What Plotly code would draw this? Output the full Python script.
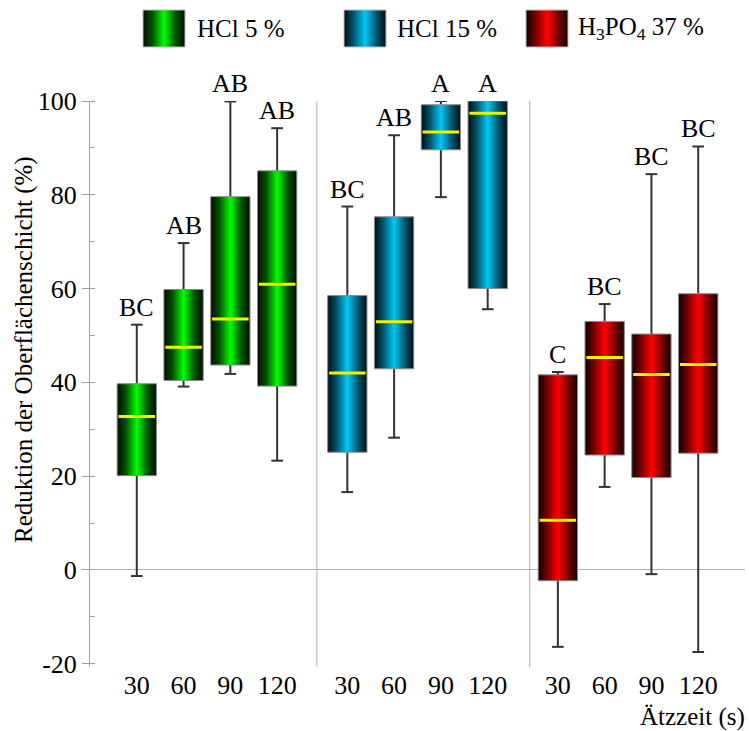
import plotly.graph_objects as go

# ---------------- data ----------------
times = ["30", "60", "90", "120"]
groups = ["HCl 5 %", "HCl 15 %", "H<sub>3</sub>PO<sub>4</sub> 37 %"]

hcl5_lo = [-1.3, 39.1, 41.8, 23.3]
hcl5_q1 = [20.1, 40.4, 43.7, 39.2]
hcl5_med = [32.7, 47.5, 53.5, 60.9]
hcl5_q3 = [39.7, 59.8, 79.6, 85.1]
hcl5_hi = [52.3, 69.7, 99.9, 94.2]
hcl5_letters = ["BC", "AB", "AB", "AB"]

hcl15_lo = [16.6, 28.2, 79.5, 55.6]
hcl15_q1 = [25.1, 42.9, 89.6, 60.0]
hcl15_med = [42.0, 52.9, 93.4, 97.4]
hcl15_q3 = [58.5, 75.3, 99.2, 100.0]
hcl15_hi = [77.5, 92.7, 100.0, 100.0]
hcl15_letters = ["BC", "AB", "A", "A"]

h3po4_lo = [-16.4, 17.7, -0.9, -17.5]
h3po4_q1 = [-2.3, 24.5, 19.7, 24.9]
h3po4_med = [10.6, 45.3, 41.7, 43.8]
h3po4_q3 = [41.6, 53.0, 50.3, 58.9]
h3po4_hi = [42.2, 56.7, 84.4, 90.3]
h3po4_letters = ["C", "BC", "BC", "BC"]

y_ticks = [-20, 0, 20, 40, 60, 80, 100]
y_ticktext = ["-20", "0", "20", "40", "60", "80", "100"]

# ---------------- style ----------------
FONT = "Liberation Serif"
scales = [
    [[0, "#000e00"], [0.22, "#005200"], [0.5, "#00ff00"], [0.78, "#005200"], [1, "#000e00"]],
    [[0, "#000f15"], [0.22, "#00526a"], [0.5, "#00c8f5"], [0.78, "#00526a"], [1, "#000f15"]],
    [[0, "#120000"], [0.22, "#720000"], [0.5, "#ff0000"], [0.78, "#720000"], [1, "#120000"]],
]
group_start = [1.0, 5.5, 10.0]
separators = [4.85, 9.4]
BW = 0.84       # box width (x units)
CAP = 0.125     # whisker cap half width
WH = "#333333"

data = [
    (hcl5_lo, hcl5_q1, hcl5_med, hcl5_q3, hcl5_hi, hcl5_letters),
    (hcl15_lo, hcl15_q1, hcl15_med, hcl15_q3, hcl15_hi, hcl15_letters),
    (h3po4_lo, h3po4_q1, h3po4_med, h3po4_q3, h3po4_hi, h3po4_letters),
]

fig = go.Figure()
annotations = []
tickvals, ticktext = [], []

for g, (lo, q1, med, q3, hi, letters) in enumerate(data):
    for i in range(len(times)):
        c = group_start[g] + i
        tickvals.append(c)
        ticktext.append(times[i])
        # whiskers + caps
        wx = [c, c, None, c, c, None, c - CAP, c + CAP, None, c - CAP, c + CAP]
        wy = [q3[i], hi[i], None, q1[i], lo[i], None, hi[i], hi[i], None, lo[i], lo[i]]
        fig.add_trace(go.Scatter(x=wx, y=wy, mode="lines", line=dict(color=WH, width=2),
                                 showlegend=False, hoverinfo="skip", cliponaxis=False))
        # box
        l, r = c - BW / 2, c + BW / 2
        fig.add_trace(go.Scatter(
            x=[l, r, r, l, l], y=[q1[i], q1[i], q3[i], q3[i], q1[i]],
            mode="lines", fill="toself",
            fillgradient=dict(type="horizontal", colorscale=scales[g]),
            line=dict(color="#8a8a8a", width=1),
            showlegend=False, hoverinfo="skip", cliponaxis=False))
        # median
        fig.add_trace(go.Scatter(x=[l + 0.03, r - 0.03], y=[med[i], med[i]], mode="lines",
                                 line=dict(color="#f2f200", width=3),
                                 showlegend=False, hoverinfo="skip", cliponaxis=False))
        annotations.append(dict(x=c, y=hi[i], xref="x", yref="y", text=letters[i],
                                showarrow=False, yanchor="bottom", yshift=1,
                                font=dict(family=FONT, size=26, color="black")))

# ---------------- legend (own axis, pixel-like units) ----------------
leg_x = [143, 344, 526]
leg_text_x = [195, 395, 576]
SW, SH, LY = 42, 37, 28.5
for g in range(3):
    x0 = leg_x[g]
    fig.add_trace(go.Scatter(
        x=[x0, x0 + SW, x0 + SW, x0, x0], y=[LY - SH / 2, LY - SH / 2, LY + SH / 2, LY + SH / 2, LY - SH / 2],
        xaxis="x2", yaxis="y2", mode="lines", fill="toself",
        fillgradient=dict(type="horizontal", colorscale=scales[g]),
        line=dict(color="#bbbbbb", width=1), showlegend=False, hoverinfo="skip"))
    annotations.append(dict(x=leg_text_x[g], y=LY, xref="x2", yref="y2", text=groups[g],
                            showarrow=False, xanchor="left", yanchor="middle",
                            font=dict(family=FONT, size=25, color="black")))

annotations.append(dict(x=1, y=0, xref="paper", yref="paper", text="Ätzzeit (s)",
                        showarrow=False, xanchor="right", yanchor="middle", yshift=-50, xshift=2,
                        font=dict(family=FONT, size=25, color="black")))
annotations.append(dict(x=0, y=(667 - 350) / 667, xref="paper", yref="paper",
                        text="Reduktion der Oberflächenschicht (%)", textangle=-90,
                        showarrow=False, xanchor="center", yanchor="middle", xshift=-66,
                        font=dict(family=FONT, size=25, color="black")))

shapes = [dict(type="line", xref="x", yref="y domain", x0=s, x1=s, y0=0, y1=1,
               line=dict(color="#b0b0b0", width=1)) for s in separators]

fig.update_layout(
    width=749, height=731,
    margin=dict(l=90, r=4, t=0, b=64, autoexpand=False),
    paper_bgcolor="white", plot_bgcolor="white",
    showlegend=False,
    font=dict(family=FONT, color="black"),
    annotations=annotations, shapes=shapes,
    xaxis=dict(range=[0, 14], tickvals=tickvals, ticktext=ticktext, showgrid=False,
               zeroline=False, showline=False, ticks="", ticklen=0, automargin=False,
               tickfont=dict(family=FONT, size=26, color="black"), domain=[0, 1]),
    yaxis=dict(range=[-20.7, 100], domain=[0, 566 / 667], tickvals=y_ticks, ticktext=y_ticktext,
               showgrid=False, zeroline=True, zerolinecolor="#b0b0b0", zerolinewidth=1,
               showline=True, linecolor="#a0a0a0", linewidth=1, automargin=False,
               ticks="outside", ticklen=7, tickcolor="#a0a0a0",
               minor=dict(ticks="inside", ticklen=5, dtick=10, tickcolor="#a0a0a0", showgrid=False),
               tickfont=dict(family=FONT, size=26, color="black")),
    xaxis2=dict(range=[90, 745], domain=[0, 1], visible=False, anchor="y2", automargin=False),
    yaxis2=dict(range=[60, 0], domain=[607 / 667, 1], visible=False, anchor="x2", automargin=False),
)

fig.write_html("out.html", config={"displayModeBar": False},
               post_script="document.body.style.margin='0';")
